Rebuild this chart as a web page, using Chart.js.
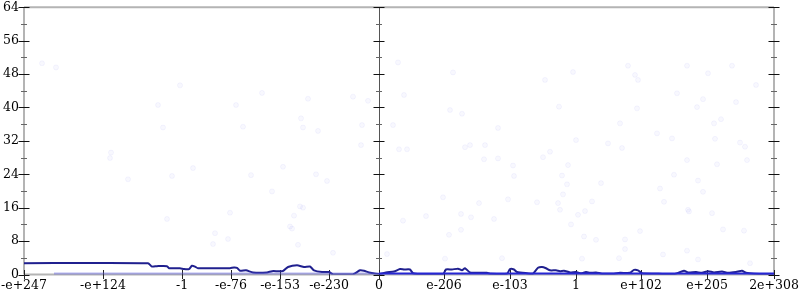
<!DOCTYPE html>
<html>
<head>
<meta charset="utf-8">
<script src="https://cdn.jsdelivr.net/npm/chart.js@4/dist/chart.umd.min.js"></script>
<style>
  html, body { margin: 0; padding: 0; background: #fff; }
  canvas { display: block; }
</style>
</head>
<body>
<canvas id="errChart" width="800" height="300"></canvas>
<script>
// x is the ordinal position of the input along the float line, y is bits of error
const xTickValues = [0, 79, 158, 207, 256, 305, 355, 420, 486, 552, 617, 683, 750];
const xTickLabels = ['-e+247', '-e+124', '-1', '-e-76', '-e-153', '-e-230', '0',
                     'e-206', 'e-103', '1', 'e+102', 'e+205', '2e+308'];

// individual sample points (faint dots)
const pointX = [18, 32, 134, 156, 139, 87, 86, 104, 148, 169, 143,
  227, 259, 292, 303, 248, 206, 191, 189, 204, 276, 279, 270, 266, 268, 274, 309, 363,
  374, 429, 284, 329, 344, 380, 277, 279, 294, 338, 369, 426, 438, 337, 375, 383, 441, 446,
  604, 663, 708, 611, 614, 684, 732, 653, 679, 673, 712, 613, 596, 690, 697, 633, 648, 691, 716, 721, 584, 598,
  419, 455, 484, 513, 534, 536, 568, 539, 460, 474, 489, 490, 519, 526, 544, 538, 543,
  379, 402, 437, 447, 470, 437, 425, 554, 561, 547, 560, 572, 421, 478, 558,
  663, 693, 723, 650, 674, 577, 636, 679, 640, 664, 665, 688, 616, 601, 699, 720, 601, 663, 639, 595, 674, 726,
  521, 549, 474, 535, 461, 552, 212, 219, 238];
const pointY = [50.6, 49.6, 40.6, 45.3, 35.2, 29.2, 27.9, 22.8, 23.6, 25.5, 13.3,
  23.8, 25.8, 24.0, 22.4, 19.9, 14.8, 9.9, 7.3, 8.5, 16.3, 16.0, 14.1, 11.5, 11.0, 7.1, 5.2, 4.9,
  50.8, 48.4, 42.1, 42.6, 41.6, 43.0, 37.4, 35.2, 34.4, 35.8, 35.8, 39.4, 38.5, 31.0, 30.0, 30.0, 30.5, 31.0,
  50.0, 50.0, 50.0, 47.8, 46.6, 48.2, 45.4, 43.4, 42.0, 40.1, 41.3, 39.8, 36.2, 36.2, 37.2, 33.8, 32.6, 32.5, 31.6, 30.6, 31.4, 30.3,
  18.5, 17.1, 18.0, 17.3, 17.1, 15.5, 17.5, 19.2, 27.6, 27.8, 26.1, 23.6, 28.1, 29.4, 26.2, 23.7, 21.6,
  12.9, 14.0, 14.5, 13.7, 13.3, 10.7, 9.5, 14.3, 15.2, 12.0, 9.1, 8.3, 3.8, 3.9, 3.8,
  27.4, 26.4, 27.4, 23.9, 22.5, 21.9, 20.6, 19.8, 17.4, 15.5, 15.1, 14.7, 10.4, 8.4, 10.8, 10.5, 6.1, 5.7, 4.8, 3.9, 3.6, 2.7,
  46.6, 48.5, 35.1, 40.2, 31.0, 32.2, 40.6, 35.4, 43.5];

// averaged error of the original program (navy)
const inputErrX = [0, 124, 128, 133, 143, 145, 156, 160, 165, 168, 171, 174, 190, 206, 210, 213, 216, 222,
  229, 243, 248, 259, 264, 273, 280, 286, 290, 298, 305, 309, 329, 336, 340, 345, 352, 356, 362, 370,
  376, 380, 386, 389, 396, 419, 422, 428, 434, 438, 441, 446, 463, 466, 483, 486, 490, 493, 503, 509,
  514, 518, 522, 526, 532, 536, 540, 546, 552, 557, 562, 566, 572, 578, 590, 596, 606, 610, 614, 618,
  630, 650, 660, 664, 672, 678, 684, 690, 698, 704, 712, 718, 722, 730, 750];
const inputErr = [2.7, 2.7, 1.9, 2.0, 2.0, 1.5, 1.5, 1.3, 1.3, 2.1, 1.9, 1.5, 1.5, 1.5, 1.7, 1.6, 0.9, 1.0,
  0.5, 0.5, 0.8, 0.85, 1.8, 2.2, 1.8, 1.9, 1.0, 0.6, 0.6, 0.05, 0.05, 1.0, 0.9, 0.5, 0.2, 0.1, 0.5, 0.7,
  1.3, 1.2, 1.2, 0.3, 0.1, 0.1, 1.2, 1.2, 1.4, 1.0, 1.5, 0.5, 0.4, 0.2, 0.2, 1.3, 1.2, 0.6, 0.3, 0.2,
  1.6, 1.8, 1.5, 1.0, 1.0, 0.8, 0.9, 0.5, 0.6, 0.3, 0.6, 0.4, 0.5, 0.2, 0.2, 0.4, 0.4, 1.1, 1.0, 0.3,
  0.2, 0.1, 0.9, 0.5, 0.6, 0.4, 0.8, 0.5, 0.7, 0.4, 0.6, 0.9, 0.4, 0.2, 0.1];

// averaged error of the improved program (blue)
const outputErrX = [30, 355, 750];
const outputErr = [0.1, 0.1, 0.1];

const FONT = { family: "'DejaVu Serif', serif", size: 12.5 };

const toPoints = (xs, ys) => xs.map((x, i) => ({ x: x, y: ys[i] }));

// axis lines and ticks that cross the axes, like the original plot
const axisMarks = {
  id: 'axisMarks',
  beforeDatasetsDraw(chart) {
    const { ctx, chartArea: a, scales } = chart;
    const xs = scales.x, ys = scales.y;
    const zeroX = xs.getPixelForValue(xTickValues[xTickLabels.indexOf('0')]);
    ctx.save();
    // frame
    ctx.strokeStyle = '#b4b4b4';
    ctx.lineWidth = 2;
    ctx.beginPath();
    ctx.moveTo(a.left, a.top); ctx.lineTo(a.right, a.top);
    ctx.moveTo(a.left, a.top); ctx.lineTo(a.left, a.bottom);
    ctx.moveTo(a.right, a.top); ctx.lineTo(a.right, a.bottom);
    ctx.moveTo(a.left, a.bottom); ctx.lineTo(a.right, a.bottom);
    ctx.stroke();
    ctx.strokeStyle = '#555';
    ctx.lineWidth = 1;
    ctx.beginPath();
    ctx.moveTo(Math.round(zeroX) + 0.5, a.top); ctx.lineTo(Math.round(zeroX) + 0.5, a.bottom);
    ctx.stroke();
    // y ticks on the three vertical axes
    [a.left, zeroX, a.right].forEach(px => {
      for (let v = 0; v <= 64; v += 4) {
        const py = Math.round(ys.getPixelForValue(v)) + 0.5;
        const major = v % 8 === 0;
        ctx.strokeStyle = major ? '#111' : '#666';
        ctx.lineWidth = 1;
        const len = major ? 5.5 : 3;
        ctx.beginPath();
        ctx.moveTo(px - len, py); ctx.lineTo(px + len, py);
        ctx.stroke();
      }
    });
    // x ticks
    ctx.strokeStyle = '#222';
    xTickValues.forEach(v => {
      const px = Math.round(xs.getPixelForValue(v)) + 0.5;
      ctx.beginPath();
      ctx.moveTo(px, a.bottom - 4.5); ctx.lineTo(px, a.bottom + 4.5);
      ctx.stroke();
    });
    ctx.restore();
  }
};

new Chart(document.getElementById('errChart'), {
  type: 'scatter',
  data: {
    datasets: [
      {
        label: 'output error',
        type: 'line',
        data: toPoints(outputErrX, outputErr),
        borderWidth: 3,
        pointRadius: 0,
        segment: {
          borderColor: c => c.p0.parsed.x < 355 ? 'rgba(95, 95, 225, 0.45)' : '#2626d4'
        },
        borderColor: '#2626d4',
        order: 1
      },
      {
        label: 'input error',
        type: 'line',
        data: toPoints(inputErrX, inputErr),
        borderColor: '#20208f',
        borderWidth: 2,
        pointRadius: 0,
        tension: 0.2,
        order: 2
      },
      {
        label: 'samples',
        data: toPoints(pointX, pointY),
        pointRadius: 2.5,
        backgroundColor: 'rgba(70, 70, 230, 0.035)',
        borderColor: 'rgba(70, 70, 230, 0.05)',
        borderWidth: 1,
        order: 3
      }
    ]
  },
  options: {
    responsive: false,
    animation: false,
    layout: { padding: { top: 7.3, right: 26, left: 0, bottom: 0 } },
    plugins: { legend: { display: false }, tooltip: { enabled: false } },
    scales: {
      x: {
        type: 'linear',
        min: 0,
        max: 750,
        border: { display: false },
        grid: { display: false, drawTicks: false },
        afterBuildTicks: scale => { scale.ticks = xTickValues.map(v => ({ value: v })); },
        afterFit: scale => { scale.height = 25.5; scale.paddingLeft = 0; scale.paddingRight = 0; },
        ticks: {
          autoSkip: false,
          maxRotation: 0,
          padding: 4,
          color: '#000',
          font: FONT,
          callback: (value, index) => xTickLabels[index]
        }
      },
      y: {
        min: 0,
        max: 64,
        border: { display: false },
        grid: { display: false, drawTicks: false },
        afterFit: scale => { scale.width = 24; scale.paddingTop = 0; scale.paddingBottom = 0; },
        ticks: {
          stepSize: 8,
          padding: 5,
          color: '#000',
          font: FONT
        }
      }
    }
  },
  plugins: [axisMarks]
});
</script>
</body>
</html>
